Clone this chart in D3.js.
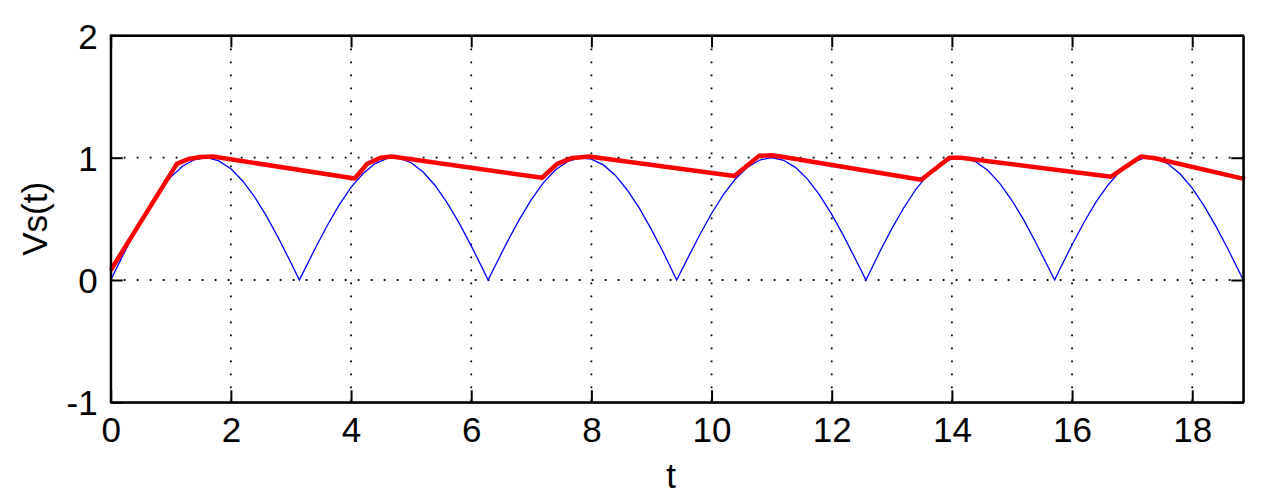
<!DOCTYPE html>
<html>
<head>
<meta charset="utf-8">
<script src="https://cdn.jsdelivr.net/npm/d3@7"></script>
<style>
body{margin:0;background:#fff;}
text{font-family:"Liberation Sans",Arial,Helvetica,sans-serif;fill:#000;}
</style>
</head>
<body>
<div id="plot"></div>
<script>
// blue trace: rectified source
var blueT=[0,0.2,0.4,0.6,0.8,1.0,1.2,1.4,1.6,1.8,2.0,2.2,2.4,2.6,2.8,3.0,3.14,
3.2,3.4,3.6,3.8,4.0,4.2,4.4,4.6,4.8,5.0,5.2,5.4,5.6,5.8,6.0,6.2,6.28,
6.4,6.6,6.8,7.0,7.2,7.4,7.6,7.8,8.0,8.2,8.4,8.6,8.8,9.0,9.2,9.42,
9.6,9.8,10.0,10.2,10.4,10.6,10.8,11.0,11.2,11.4,11.6,11.8,12.0,12.2,12.4,12.57,
12.8,13.0,13.2,13.4,13.6,13.8,14.0,14.2,14.4,14.6,14.8,15.0,15.2,15.4,15.6,15.71,
15.8,16.0,16.2,16.4,16.6,16.8,17.0,17.2,17.4,17.6,17.8,18.0,18.2,18.4,18.6,18.85]
var blueV=[0,0.199,0.389,0.565,0.717,0.841,0.932,0.985,1.0,0.974,0.909,0.808,0.675,0.516,0.335,0.141,0,
0.058,0.256,0.442,0.612,0.757,0.871,0.952,0.994,0.996,0.959,0.883,0.773,0.631,0.465,0.279,0.083,0,
0.117,0.312,0.494,0.657,0.794,0.899,0.968,0.999,0.989,0.941,0.855,0.734,0.585,0.412,0.223,0,
0.175,0.366,0.544,0.700,0.828,0.922,0.981,1.0,0.979,0.919,0.823,0.694,0.537,0.359,0.166,0,
0.231,0.420,0.591,0.741,0.859,0.944,0.991,0.998,0.966,0.895,0.788,0.650,0.487,0.303,0.108,0,
0.092,0.288,0.472,0.638,0.778,0.888,0.961,0.997,0.993,0.949,0.867,0.751,0.604,0.434,0.247,0]

// red trace: filtered output
var redT=[0,1.1,1.3,1.5,1.7,4.06,4.27,4.49,4.68,7.18,7.43,7.66,7.96,10.38,10.79,10.99,11.15,
13.49,13.96,14.15,16.65,17.15,17.38,18.88]
var redV=[0.08,0.95,0.99,1.005,1.01,0.83,0.95,1.0,1.01,0.836,0.95,0.995,1.01,0.85,1.015,1.02,1.01,
0.82,1.0,1.0,0.845,1.01,0.995,0.825]

var xTicks=[0,2,4,6,8,10,12,14,16,18]
var yTicks=[-1,0,1,2]
var xLabel="t", yLabel="Vs(t)"

var W=1274,H=500
var margin={top:35.4,left:110.7,right:30.7,bottom:97.7},
    width=W-margin.left-margin.right,
    height=H-margin.top-margin.bottom;

var svg=d3.select("#plot").append("svg")
    .attr("width",W)
    .attr("height",H)

var g=svg.append("g")
    .attr("transform","translate("+margin.left+","+margin.top+")");

var x=d3.scaleLinear().domain([0,18.85]).range([0,width])
var y=d3.scaleLinear().domain([-1,2]).range([height,0])

// dotted grid
g.selectAll(".gx").data(xTicks.filter(function(d){return d>0;}))
.enter().append("line")
.attr("x1",function(d){return x(d);}).attr("x2",function(d){return x(d);})
.attr("y1",0).attr("y2",height)
.style("stroke","#000").style("stroke-width",1.8)
.style("stroke-dasharray","1.8,11.2")

g.selectAll(".gy").data(yTicks.filter(function(d){return d>-1&&d<2;}))
.enter().append("line")
.attr("y1",function(d){return y(d);}).attr("y2",function(d){return y(d);})
.attr("x1",0).attr("x2",width)
.style("stroke","#000").style("stroke-width",1.8)
.style("stroke-dasharray","1.8,11.2")

var line=d3.line()
.x(function(d){return x(d[0]);})
.y(function(d){return y(d[1]);})

var bluePts=blueT.map(function(t,i){return [t,blueV[i]];})
var redPts=redT.map(function(t,i){return [t,redV[i]];})

g.append("path").datum(bluePts)
.attr("d",line)
.style("fill","none").style("stroke","#0000ff").style("stroke-width",1.3)

g.append("path").datum(redPts)
.attr("d",line)
.style("fill","none").style("stroke","#ff0000").style("stroke-width",4.5)
.style("stroke-linejoin","round")

// axes, ticks inside on all four sides (matlab box)
var fmt=function(d){return String(d);}
var xAx=g.append("g").attr("transform","translate(0,"+height+")")
.call(d3.axisBottom(x).tickValues(xTicks).tickSizeInner(-12).tickSizeOuter(0).tickFormat(fmt))
var xTop=g.append("g")
.call(d3.axisTop(x).tickValues(xTicks).tickSizeInner(-12).tickSizeOuter(0).tickFormat(""))
var yAx=g.append("g")
.call(d3.axisLeft(y).tickValues(yTicks).tickSizeInner(-12).tickSizeOuter(0).tickFormat(fmt))
var yRight=g.append("g").attr("transform","translate("+width+",0)")
.call(d3.axisRight(y).tickValues(yTicks).tickSizeInner(-12).tickSizeOuter(0).tickFormat(""))

g.selectAll(".domain").style("stroke","#000").style("stroke-width",2)
g.selectAll(".tick line").style("stroke","#000").style("stroke-width",2)
g.selectAll(".tick text").style("font-size","35px").style("font-family","'Liberation Sans',Arial,sans-serif")

xAx.selectAll(".tick text").attr("dy",null).attr("y",40)
yAx.selectAll(".tick text").attr("x",-13).attr("dy","0.36em")

g.append("rect").attr("x",0).attr("y",0).attr("width",width).attr("height",height)
.style("fill","none").style("stroke","#000").style("stroke-width",2)

svg.append("text")
.attr("x",margin.left+width/2-6).attr("y",488)
.attr("text-anchor","middle")
.style("font-size","35px")
.text(xLabel)

svg.append("text")
.attr("transform","translate(47,"+(margin.top+height/2)+") rotate(-90)")
.attr("text-anchor","middle")
.style("font-size","35px")
.text(yLabel)
</script>
</body>
</html>
